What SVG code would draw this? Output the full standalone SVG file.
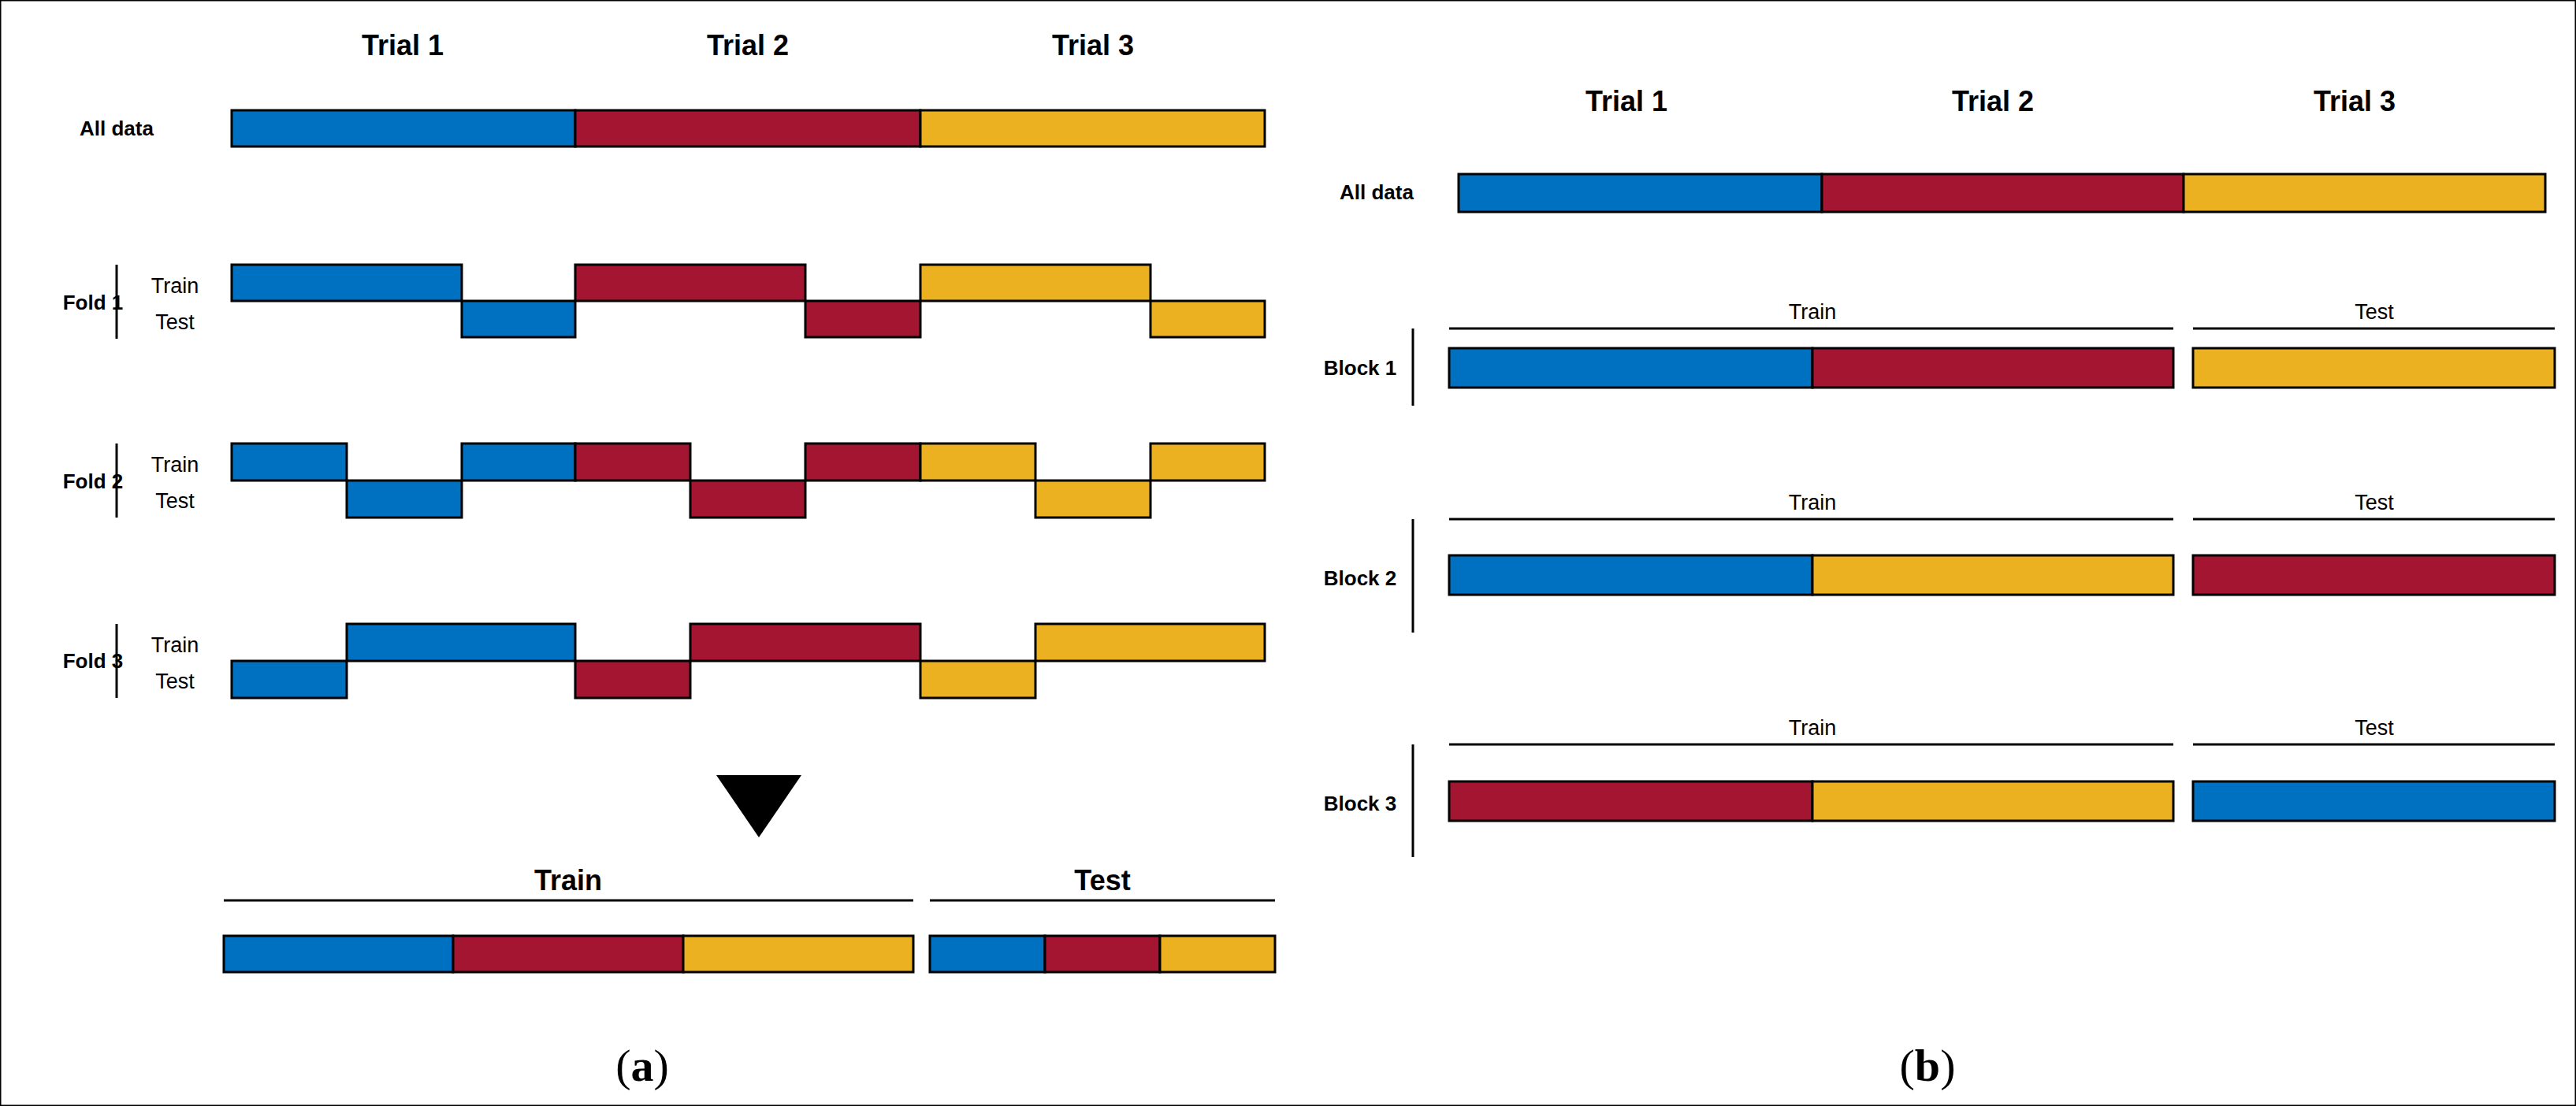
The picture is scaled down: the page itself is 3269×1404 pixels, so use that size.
<svg xmlns="http://www.w3.org/2000/svg" width="3269" height="1404" viewBox="0 0 3269 1404">
<style>
.b{fill:#0070C0}.r{fill:#A31530}.y{fill:#ECB120}
rect{stroke:#000;stroke-width:3}
line{stroke:#000;stroke-width:3}
text{font-family:"Liberation Sans",Arial,sans-serif;text-anchor:middle;fill:#000}
.h{font-size:36px;font-weight:bold}
.l{font-size:26px;font-weight:bold}
.s{font-size:27px}
.c{font-family:"Liberation Serif","Times New Roman",serif;font-size:58px}
</style>
<rect width="3269" height="1404" fill="#fff" stroke="none"/>
<g id="panel-a">
<text class="h" x="511" y="70">Trial 1</text><text class="h" x="949" y="70">Trial 2</text><text class="h" x="1387" y="70">Trial 3</text>
<g id="a-all"><text class="l" x="148" y="172">All data</text>
<rect class="b" x="294" y="140" width="436" height="46"/><rect class="r" x="730" y="140" width="438" height="46"/><rect class="y" x="1168" y="140" width="437" height="46"/></g>
<g id="a-fold1"><text class="l" x="118" y="393">Fold 1</text><line x1="148" y1="336" x2="148" y2="430"/>
<text class="s" x="222" y="372">Train</text><text class="s" x="222" y="418">Test</text>
<rect class="b" x="294" y="336" width="292" height="46"/><rect class="b" x="586" y="382" width="144" height="46"/>
<rect class="r" x="730" y="336" width="292" height="46"/><rect class="r" x="1022" y="382" width="146" height="46"/>
<rect class="y" x="1168" y="336" width="292" height="46"/><rect class="y" x="1460" y="382" width="145" height="46"/></g>
<g id="a-fold2"><text class="l" x="118" y="620">Fold 2</text><line x1="148" y1="563" x2="148" y2="657"/>
<text class="s" x="222" y="599">Train</text><text class="s" x="222" y="645">Test</text>
<rect class="b" x="294" y="563" width="146" height="47"/><rect class="b" x="440" y="610" width="146" height="47"/><rect class="b" x="586" y="563" width="144" height="47"/>
<rect class="r" x="730" y="563" width="146" height="47"/><rect class="r" x="876" y="610" width="146" height="47"/><rect class="r" x="1022" y="563" width="146" height="47"/>
<rect class="y" x="1168" y="563" width="146" height="47"/><rect class="y" x="1314" y="610" width="146" height="47"/><rect class="y" x="1460" y="563" width="145" height="47"/></g>
<g id="a-fold3"><text class="l" x="118" y="848">Fold 3</text><line x1="148" y1="792" x2="148" y2="886"/>
<text class="s" x="222" y="828">Train</text><text class="s" x="222" y="874">Test</text>
<rect class="b" x="294" y="839" width="146" height="47"/><rect class="b" x="440" y="792" width="290" height="47"/>
<rect class="r" x="730" y="839" width="146" height="47"/><rect class="r" x="876" y="792" width="292" height="47"/>
<rect class="y" x="1168" y="839" width="146" height="47"/><rect class="y" x="1314" y="792" width="291" height="47"/></g>
<polygon id="a-arrow" points="909,984 1017,984 963,1063" fill="#000"/>
<g id="a-result"><text class="h" x="721" y="1130">Train</text><text class="h" x="1399" y="1130">Test</text>
<line x1="284" y1="1143" x2="1159" y2="1143"/><line x1="1180" y1="1143" x2="1618" y2="1143"/>
<rect class="b" x="284" y="1188" width="291" height="46"/><rect class="r" x="575" y="1188" width="292" height="46"/><rect class="y" x="867" y="1188" width="292" height="46"/>
<rect class="b" x="1180" y="1188" width="146" height="46"/><rect class="r" x="1326" y="1188" width="146" height="46"/><rect class="y" x="1472" y="1188" width="146" height="46"/></g>
<text class="c" x="815" y="1372">(<tspan font-weight="bold">a</tspan>)</text>
</g>
<g id="panel-b">
<text class="h" x="2064" y="141">Trial 1</text><text class="h" x="2529" y="141">Trial 2</text><text class="h" x="2988" y="141">Trial 3</text>
<g id="b-all"><text class="l" x="1747" y="253">All data</text>
<rect class="b" x="1851" y="221" width="461" height="48"/><rect class="r" x="2312" y="221" width="459" height="48"/><rect class="y" x="2771" y="221" width="459" height="48"/></g>
<g id="b-block1"><text class="s" x="2300" y="405">Train</text><text class="s" x="3013" y="405">Test</text>
<line x1="1839" y1="417" x2="2758" y2="417"/><line x1="2783" y1="417" x2="3242" y2="417"/>
<text class="l" x="1726" y="476">Block 1</text><line x1="1793" y1="417" x2="1793" y2="515"/>
<rect class="b" x="1839" y="442" width="461" height="50"/><rect class="r" x="2300" y="442" width="458" height="50"/><rect class="y" x="2783" y="442" width="459" height="50"/></g>
<g id="b-block2"><text class="s" x="2300" y="647">Train</text><text class="s" x="3013" y="647">Test</text>
<line x1="1839" y1="659" x2="2758" y2="659"/><line x1="2783" y1="659" x2="3242" y2="659"/>
<text class="l" x="1726" y="743">Block 2</text><line x1="1793" y1="659" x2="1793" y2="803"/>
<rect class="b" x="1839" y="705" width="461" height="50"/><rect class="y" x="2300" y="705" width="458" height="50"/><rect class="r" x="2783" y="705" width="459" height="50"/></g>
<g id="b-block3"><text class="s" x="2300" y="933">Train</text><text class="s" x="3013" y="933">Test</text>
<line x1="1839" y1="945" x2="2758" y2="945"/><line x1="2783" y1="945" x2="3242" y2="945"/>
<text class="l" x="1726" y="1029">Block 3</text><line x1="1793" y1="945" x2="1793" y2="1088"/>
<rect class="r" x="1839" y="992" width="461" height="50"/><rect class="y" x="2300" y="992" width="458" height="50"/><rect class="b" x="2783" y="992" width="459" height="50"/></g>
<text class="c" x="2446" y="1372">(<tspan font-weight="bold">b</tspan>)</text>
</g>
</svg>
